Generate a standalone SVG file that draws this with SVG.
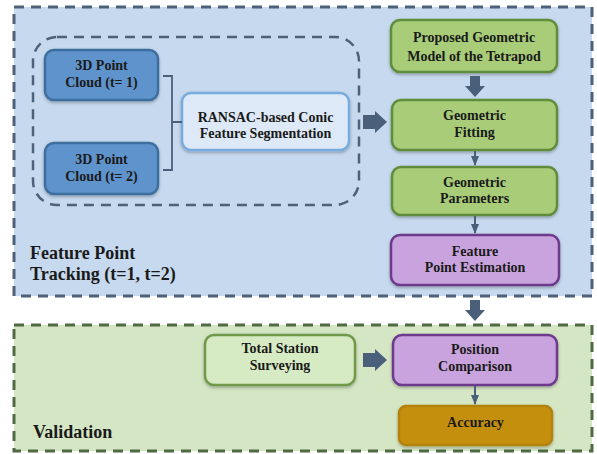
<svg xmlns="http://www.w3.org/2000/svg" width="597" height="454" viewBox="0 0 597 454" font-family="'Liberation Serif', 'DejaVu Serif', serif">
<defs>
<filter id="sh" x="-10%" y="-10%" width="120%" height="130%">
<feDropShadow dx="0" dy="1.5" stdDeviation="1.5" flood-color="#000" flood-opacity="0.3"/>
</filter>
<marker id="ah" viewBox="0 0 10 10" refX="9" refY="5" markerWidth="5" markerHeight="5" orient="auto">
<path d="M0,1 L10,5 L0,9 Z" fill="#4a5f7a"/>
</marker>
<style>
text{font-family:'Liberation Serif','DejaVu Serif',serif;font-weight:bold;fill:#1a1a1a;}
.t{font-size:14px;text-anchor:middle;}
.lab{font-size:18px;}
.node{filter:url(#sh);stroke-width:2.5;}
.pc{fill:#5e93cc;stroke:#3d6e9e;}
.rs{fill:#dde9f6;stroke:#79acde;}
.gr{fill:#a8cc78;stroke:#5f8c3d;}
.gl{fill:#d6eac3;stroke:#6e9a4a;}
.pu{fill:#c9a3dd;stroke:#6e3a8c;}
.ac{fill:#c48f0a;stroke:#b3820c;}
.thin{stroke:#4a5f7a;stroke-width:2;fill:none;marker-end:url(#ah);}
.fat{fill:#4a5f7a;}
</style>
</defs>
<rect width="597" height="454" fill="#ffffff"/>
<g id="panel-tracking">
<rect x="14" y="7" width="578" height="289" fill="#c6d9ee" stroke="#4d6178" stroke-width="3" stroke-dasharray="10,7"/>
<text class="lab" x="30" y="259">Feature Point</text>
<text class="lab" x="30" y="280">Tracking (t=1, t=2)</text>
</g>
<g id="panel-validation">
<rect x="14" y="325" width="578" height="126" fill="#d5e6c4" stroke="#4f6a45" stroke-width="3" stroke-dasharray="10,7"/>
<text class="lab" x="33" y="438">Validation</text>
</g>
<g id="group-segmentation">
<rect x="33" y="37" width="326" height="168" rx="24" fill="none" stroke="#4d6178" stroke-width="2.5" stroke-dasharray="10,7"/>
</g>
<g id="pc1"><rect class="node pc" x="45" y="50" width="113" height="50" rx="9"/>
<text class="t" x="101.5" y="70">3D Point</text><text class="t" x="101.5" y="87">Cloud (t= 1)</text></g>
<g id="pc2"><rect class="node pc" x="45" y="143" width="113" height="51" rx="9"/>
<text class="t" x="101.5" y="164">3D Point</text><text class="t" x="101.5" y="181">Cloud (t= 2)</text></g>
<g id="ransac"><rect class="node rs" x="182" y="93" width="167" height="57" rx="9"/>
<text class="t" x="265.5" y="122">RANSAC-based Conic</text><text class="t" x="265.5" y="138">Feature Segmentation</text></g>
<g id="model"><rect class="node gr" x="391" y="20" width="166" height="52" rx="9"/>
<text class="t" x="474" y="42">Proposed Geometric</text><text class="t" x="474" y="61">Model of the Tetrapod</text></g>
<g id="fitting"><rect class="node gr" x="392" y="100" width="165" height="50" rx="9"/>
<text class="t" x="474.5" y="120">Geometric</text><text class="t" x="474.5" y="137">Fitting</text></g>
<g id="params"><rect class="node gr" x="392" y="167" width="165" height="48" rx="9"/>
<text class="t" x="474.5" y="187">Geometric</text><text class="t" x="474.5" y="203">Parameters</text></g>
<g id="estimation"><rect class="node pu" x="391" y="235" width="168" height="50" rx="9"/>
<text class="t" x="475" y="256">Feature</text><text class="t" x="475" y="272">Point Estimation</text></g>
<g id="total-station"><rect class="node gl" x="205" y="335" width="150" height="50" rx="9"/>
<text class="t" x="280" y="353">Total Station</text><text class="t" x="280" y="370">Surveying</text></g>
<g id="comparison"><rect class="node pu" x="393" y="335" width="164" height="50" rx="9"/>
<text class="t" x="475" y="354">Position</text><text class="t" x="475" y="371">Comparison</text></g>
<g id="accuracy"><rect class="node ac" x="399" y="406" width="153" height="39" rx="7"/>
<text class="t" x="475.5" y="427">Accuracy</text></g>
<g id="connectors">
<path d="M163,76 H172 V170 H163 M172,122 H182" fill="none" stroke="#4a5f7a" stroke-width="1.8"/>
<path class="fat" d="M363,115 H375 V111 L387,122 L375,133 V129 H363 Z"/>
<path class="fat" d="M470,76 H480 V86 H485 L475,97 L465,86 H470 Z"/>
<line class="thin" x1="475" y1="151" x2="475" y2="165"/>
<line class="thin" x1="475" y1="216" x2="475" y2="233"/>
<path class="fat" d="M470,300 H480 V310 H485 L475,321 L465,310 H470 Z"/>
<path class="fat" d="M363,353 H375 V349 L387,360 L375,371 V367 H363 Z"/>
<line class="thin" x1="475" y1="386" x2="475" y2="404"/>
</g>
</svg>
